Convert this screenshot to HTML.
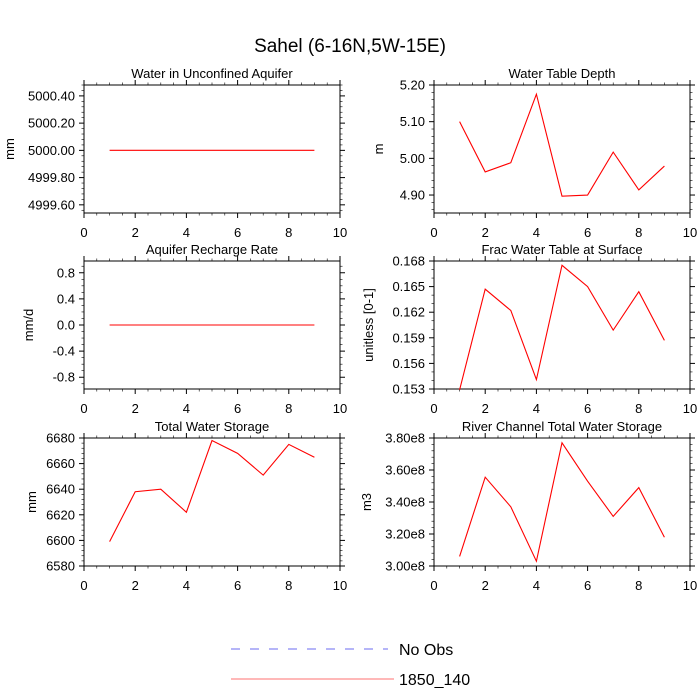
<!DOCTYPE html>
<html><head><meta charset="utf-8"><style>
html,body{margin:0;padding:0;background:#fff;}
svg{display:block;font-family:"Liberation Sans",Arial,sans-serif;}
</style></head><body>
<svg id="chart" width="700" height="700" viewBox="0 0 700 700">
<text x="350" y="52" font-size="19" text-anchor="middle">Sahel (6-16N,5W-15E)</text>
<g id="panels"></g>
<g>
<line x1="231" y1="649" x2="388" y2="649" stroke="#6b6bf0" stroke-width="1" stroke-dasharray="9,10"/>
<text x="399" y="655" font-size="16">No Obs</text>
<line x1="231" y1="679" x2="394" y2="679" stroke="#ff7070" stroke-width="1"/>
<text x="399" y="685" font-size="16">1850_140</text>
</g>
</svg>
<script>
var xVals = [1,2,3,4,5,6,7,8,9];
var xTicks = [0,2,4,6,8,10];
var aquiferVals = [5000,5000,5000,5000,5000,5000,5000,5000,5000];
var aquiferTicks = [4999.6,4999.8,5000.0,5000.2,5000.4];
var wtdVals = [5.10,4.963,4.988,5.175,4.897,4.90,5.017,4.914,4.979];
var wtdTicks = [4.90,5.00,5.10,5.20];
var rechargeVals = [0,0,0,0,0,0,0,0,0];
var rechargeTicks = [-0.8,-0.4,0,0.4,0.8];
var fracVals = [0.1529,0.1647,0.1622,0.1541,0.1675,0.1650,0.1599,0.1644,0.1587];
var fracTicks = [0.153,0.156,0.159,0.162,0.165,0.168];
var twsVals = [6599,6638,6640,6622,6678,6668,6651,6675,6665];
var twsTicks = [6580,6600,6620,6640,6660,6680];
var riverVals = [3.06e8,3.555e8,3.37e8,3.03e8,3.77e8,3.53e8,3.31e8,3.49e8,3.18e8];
var riverTicks = [3.0e8,3.2e8,3.4e8,3.6e8,3.8e8];

var NS = 'http://www.w3.org/2000/svg';
var root = document.getElementById('panels');
function mk(tag, attrs, parent) {
  var e = document.createElementNS(NS, tag);
  for (var k in attrs) { e.setAttribute(k, String(attrs[k])); }
  parent.appendChild(e);
  return e;
}
function fmt(v, dec, sci) {
  if (sci) { return (v / 1e8).toFixed(2) + 'e8'; }
  return v.toFixed(dec);
}

var panels = [
 {name:'water-unconfined-aquifer', title:'Water in Unconfined Aquifer', yl:'mm', ylx:10, x0:84, top:85, vals:aquiferVals, ticks:aquiferTicks, ymin:4999.54, ymax:5000.48, dec:2, sci:false, minor:4},
 {name:'water-table-depth', title:'Water Table Depth', yl:'m', ylx:379, x0:434, top:85, vals:wtdVals, ticks:wtdTicks, ymin:4.851, ymax:5.20, dec:2, sci:false, minor:4},
 {name:'aquifer-recharge', title:'Aquifer Recharge Rate', yl:'mm/d', ylx:29, x0:84, top:261, vals:rechargeVals, ticks:rechargeTicks, ymin:-0.98, ymax:0.98, dec:1, sci:false, minor:3},
 {name:'frac-water-table', title:'Frac Water Table at Surface', yl:'unitless [0-1]', ylx:369, x0:434, top:261, vals:fracVals, ticks:fracTicks, ymin:0.153, ymax:0.168, dec:3, sci:false, minor:2},
 {name:'total-water-storage', title:'Total Water Storage', yl:'mm', ylx:32, x0:84, top:438, vals:twsVals, ticks:twsTicks, ymin:6580, ymax:6680, dec:0, sci:false, minor:4},
 {name:'river-channel-storage', title:'River Channel Total Water Storage', yl:'m3', ylx:367, x0:434, top:438, vals:riverVals, ticks:riverTicks, ymin:3.0e8, ymax:3.8e8, dec:2, sci:true, minor:4}
];
var W = 256, H = 128;

function drawPanel(p) {
  var g = mk('g', {}, root);
  
  
  var L = p.x0, R = p.x0 + W, T = p.top, B = p.top + H;
  function xs(v) { return L + v / 10 * W; }
  function ys(v) { return B - (v - p.ymin) / (p.ymax - p.ymin) * H; }

  var t = mk('text', {x: (L + R) / 2, y: T - 7, 'font-size': 13, 'text-anchor': 'middle'}, g);
  t.textContent = p.title;
  
  

  var fr = mk('rect', {x: L, y: T, width: W, height: H, fill: 'none', stroke: '#000', 'stroke-width': 1}, g);
  
  

  var i, x, y, len, sw, maj;
  for (i = 0; i <= 20; i++) {
    x = xs(i * 0.5);
    maj = (i % 4 === 0);
    len = maj ? 5 : 2.5;
    sw = maj ? 1 : 0.6;
    mk('line', {x1: x, y1: B, x2: x, y2: B + len, stroke: '#000', 'stroke-width': sw}, g);
    mk('line', {x1: x, y1: T, x2: x, y2: T - len, stroke: '#000', 'stroke-width': sw}, g);
  }
  for (i = 0; i < xTicks.length; i++) {
    var tx = mk('text', {x: xs(xTicks[i]), y: B + 24, 'font-size': 13, 'text-anchor': 'middle'}, g);
    tx.textContent = String(xTicks[i]);
    
    
  }

  var step = p.ticks[1] - p.ticks[0];
  var ms = step / (p.minor + 1);
  var span = p.ymax - p.ymin;
  for (var k = -3 * (p.minor + 1); k <= (p.ticks.length + 2) * (p.minor + 1); k++) {
    var v = p.ticks[0] + k * ms;
    if (v < p.ymin - span * 0.001 || v > p.ymax + span * 0.001) { continue; }
    maj = (((k % (p.minor + 1)) + (p.minor + 1)) % (p.minor + 1)) === 0;
    y = ys(v);
    len = maj ? 5 : 2.5;
    sw = maj ? 1 : 0.6;
    mk('line', {x1: L, y1: y, x2: L - len, y2: y, stroke: '#000', 'stroke-width': sw}, g);
    mk('line', {x1: R, y1: y, x2: R + len, y2: y, stroke: '#000', 'stroke-width': sw}, g);
  }
  for (i = 0; i < p.ticks.length; i++) {
    var ty = mk('text', {x: L - 9, y: ys(p.ticks[i]) + 4.5, 'font-size': 13, 'text-anchor': 'end'}, g);
    ty.textContent = fmt(p.ticks[i], p.dec, p.sci);
    
    
  }
  var cy = T + H / 2;
  var yt = mk('text', {x: 0, y: 0, 'font-size': 13, 'text-anchor': 'middle', transform: 'translate(' + (p.ylx + 4) + ',' + cy + ') rotate(-90)'}, g);
  yt.textContent = p.yl;
  
  

  var pts = [];
  for (i = 0; i < p.vals.length; i++) {
    pts.push(xs(xVals[i]).toFixed(2) + ',' + ys(p.vals[i]).toFixed(2));
  }
  var pl = mk('polyline', {points: pts.join(' '), fill: 'none', stroke: '#ff0000', 'stroke-width': 1.1}, g);
  
  
}
for (var pi = 0; pi < panels.length; pi++) {
  try { drawPanel(panels[pi]); } catch (err) { }
}
</script>
</body></html>
